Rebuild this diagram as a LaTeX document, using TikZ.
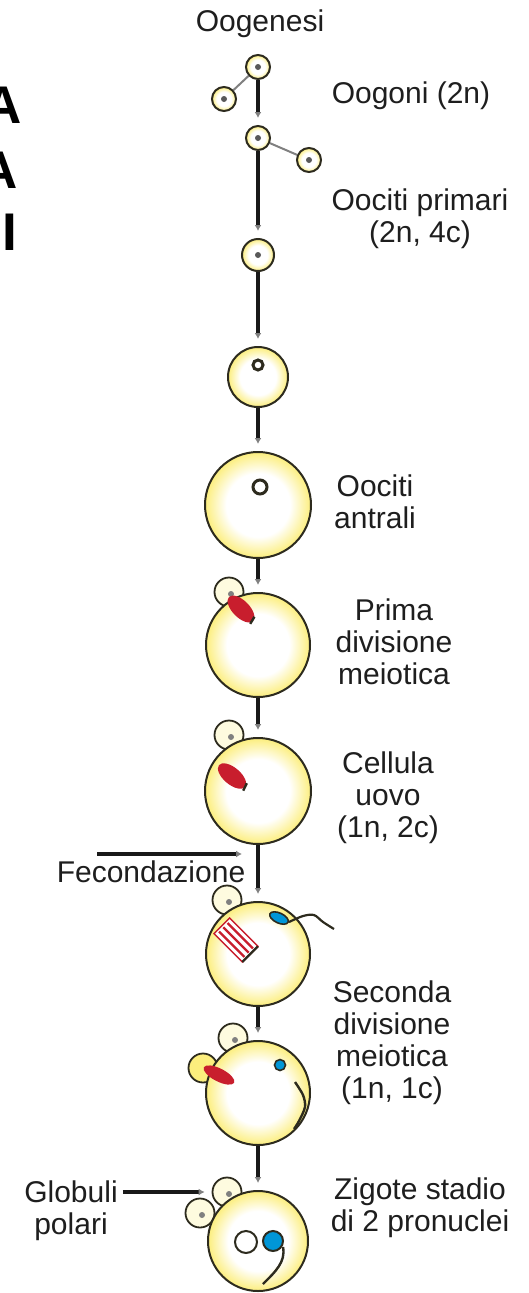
\documentclass[tikz,border=0pt]{standalone}
\usepackage{fontspec}
\setmainfont{Liberation Sans}
\usetikzlibrary{arrows.meta}

\definecolor{rim}{RGB}{45,43,30}
\definecolor{yolk}{RGB}{252,238,125}
\definecolor{spindlered}{RGB}{200,30,45}
\definecolor{spermblue}{RGB}{0,150,215}
\definecolor{labelgray}{RGB}{30,30,30}

\pgfdeclareradialshading{cellfill}{\pgfpoint{0bp}{0bp}}{color(0bp)=(white); color(15bp)=(white); color(25bp)=(yolk); color(50bp)=(yolk)}

\tikzset{
  cell/.style={circle,draw=rim,line width=2pt,shading=cellfill,inner sep=0pt},
  polar/.style={circle,draw=rim,line width=1.8pt,fill=yolk!25,inner sep=0pt,minimum size=29pt},
  link/.style={draw=black!90,line width=3.2pt,-{Latex[length=6pt,width=7pt,color=gray]},shorten >=7pt},
  branch/.style={draw=gray,line width=2pt},
  lbl/.style={font=\fontsize{30}{32}\selectfont,text=labelgray,align=center,inner sep=0pt},
  big/.style={font=\fontsize{53}{53}\selectfont\bfseries,inner sep=0pt,anchor=base east},
}

\begin{document}
\begin{tikzpicture}[x=1pt,y=-1pt]
\useasboundingbox (0,0) rectangle (528,1293);

% cut-off heading on the left
\node[big] (h1) at (22,123) {A};
\node[big] (h2) at (18,188) {A};
\node[big] (h3) at (17,250) {I};

% polar bodies (behind the cells)
\node[polar] (p8) at (229,592) {};
\node[polar] (p9) at (229,735) {};
\node[polar] (p10) at (227,900) {};
\node[polar] (p11) at (233,1038) {};
\node[polar,fill=yolk] (p11b) at (203,1068) {};
\node[polar] (p12a) at (227,1192) {};
\node[polar] (p12b) at (200,1213) {};
\foreach \p in {p8,p9,p10,p11,p12a,p12b}
  \fill[gray] ([shift={(2,2)}]\p.center) circle (3pt);

% cells
\node[cell,minimum size=24pt] (og1) at (258,67) {};
\node[cell,minimum size=24pt] (og2) at (224,99) {};
\node[cell,minimum size=24pt] (oc1) at (258,138) {};
\node[cell,minimum size=24pt] (oc2) at (309,160) {};
\node[cell,minimum size=32pt] (oc3) at (258,255) {};
\node[cell,minimum size=60pt] (oc4) at (258,377) {};
\node[cell,minimum size=106pt] (an) at (258,505) {};
\node[cell,minimum size=104pt] (pd) at (258,645) {};
\node[cell,minimum size=106pt] (uo) at (258,791) {};
\node[cell,minimum size=104pt] (fe) at (258,954) {};
\node[cell,minimum size=104pt] (sd) at (258,1093) {};
\node[cell,minimum size=100pt] (zy) at (258,1241) {};
\foreach \c in {og1,og2,oc1,oc2,oc3}
  \fill[gray!70!black] (\c) circle (3pt);
\draw[rim,line width=3pt,fill=white] (258,365) circle (5pt);
\draw[rim,line width=3pt,fill=white] (260,487) circle (7pt);

% spindles
\begin{scope}[shift={(241,609)},rotate=-45]
  \fill[spindlered] (0,0) ellipse (17 and 8.5);
  \draw[rim,line width=2.4pt] (15,-4) -- (17,4);
\end{scope}
\begin{scope}[shift={(232,776)},rotate=-40]
  \fill[spindlered] (0,0) ellipse (17 and 8.5);
  \draw[rim,line width=2.4pt] (16,-4) -- (18,4);
\end{scope}
\begin{scope}[shift={(236,940)},rotate=-45]
  \draw[spindlered,fill=white,line width=1.4pt] (-20,-11) rectangle (20,11);
  \foreach \s in {-6,0,6}
    \draw[spindlered,line width=2.4pt] (-18,\s) -- (18,\s);
  \draw[rim,line width=2.4pt] (20,-11) -- (20,11);
\end{scope}
\begin{scope}[shift={(219,1075)},rotate=-27]
  \fill[spindlered] (0,0) ellipse (17 and 6.5);
\end{scope}

% sperm and pronuclei
\begin{scope}[shift={(279,918)},rotate=-25]
  \draw[rim,line width=1.6pt,fill=spermblue] (0,0) ellipse (10 and 5);
\end{scope}
\draw[rim,line width=2.2pt] plot[smooth] coordinates {(289,922) (303,916) (314,915) (323,922) (334,929)};
\draw[rim,line width=1.6pt,fill=spermblue] (280,1065) circle (5.5pt);
\draw[rim,line width=2.4pt] plot[smooth] coordinates {(295,1082) (303,1095) (305,1107) (299,1121) (294,1129)};
\draw[rim,line width=2pt,fill=white] (246,1242) circle (11pt);
\draw[rim,line width=2pt,fill=spermblue] (273,1241) circle (10pt);
\draw[rim,line width=2.4pt] (283,1247) .. controls (286,1262) and (275,1272) .. (263,1284);

% labels
\node[lbl] (l0) at (260,24) {Oogenesi};
\node[lbl] (l1) at (411,96) {Oogoni (2n)};
\node[lbl] (l2) at (420,219) {Oociti primari\\(2n, 4c)};
\node[lbl] (l3) at (375,502) {Oociti\\antrali};
\node[lbl] (l4) at (394,642) {Prima\\divisione\\meiotica};
\node[lbl] (l5) at (388,798) {Cellula\\uovo\\(1n, 2c)};
\node[lbl] (l6) at (151,872) {Fecondazione};
\node[lbl] (l7) at (392,1043) {Seconda\\divisione\\meiotica\\(1n, 1c)};
\node[lbl] (l8) at (71,1211) {Globuli\\polari};
\node[lbl] (l9) at (420,1208) {Zigote stadio\\di 2 pronuclei};

% connectors
\draw[branch] (og1) -- (og2);
\draw[branch] (oc1) -- (oc2);
\foreach \a/\b in {og1/oc1,oc1/oc3,oc3/oc4,oc4/an,an/pd,pd/uo,uo/fe,fe/sd,sd/zy}
  \draw[link] (\a) -- (\b);
\coordinate (fecstart) at (97,854);
\coordinate (fecend) at (242,854);
\draw[link,shorten >=0pt] (fecstart) -- (fecend);
\draw[link,shorten <=5pt] (l8.east |- p12a) -- (p12a);
\end{tikzpicture}
\end{document}
